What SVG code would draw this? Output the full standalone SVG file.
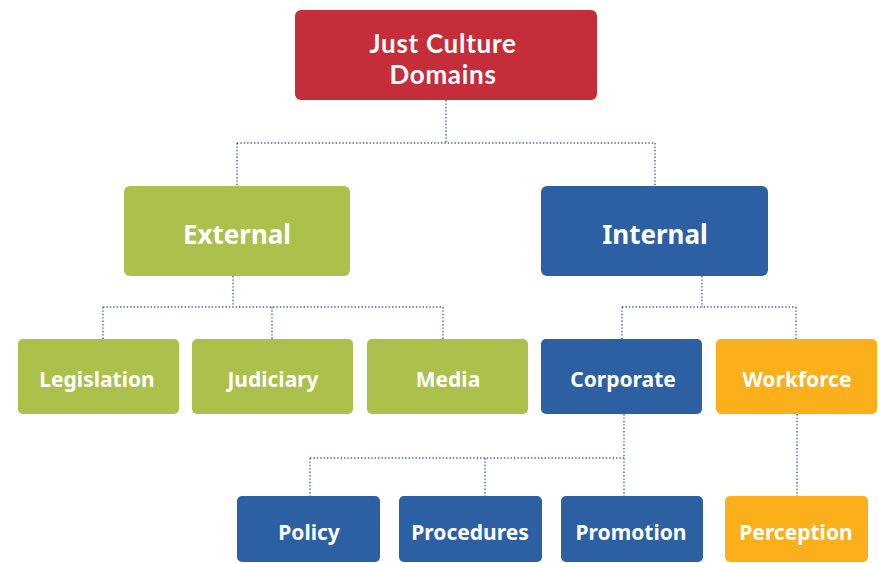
<svg xmlns="http://www.w3.org/2000/svg" width="879" height="563" viewBox="0 0 879 563">
<style>
.box{stroke:none}
.red{fill:#C52D3A}
.green{fill:#ABC14B}
.blue{fill:#2D5FA3}
.orange{fill:#FBB01B}
.t{font-family:"Noto Sans","Open Sans","DejaVu Sans",sans-serif;font-weight:bold;fill:#ffffff;text-anchor:middle}
.t1{font-family:Lato,"Noto Sans",sans-serif;font-size:26px;letter-spacing:0.7px}
.t2{font-size:26px}
.t3{font-size:21px}
.t4{font-size:21px}
.c{fill:none;stroke:#3A67B0;stroke-width:1.4;stroke-dasharray:1.4 2}
</style>
<rect x="0" y="0" width="879" height="563" fill="#ffffff"/>
<g id="connectors">
<path class="c" d="M446,100 V143 M237,143 H655 M237,143 V186 M655,143 V186"/>
<path class="c" d="M233,276 V307 M103,307 H443 M103,307 V339 M272,307 V339 M443,307 V339"/>
<path class="c" d="M702,276 V307 M622,307 H796 M622,307 V339 M796,307 V339"/>
<path class="c" d="M624,414 V458 M310,458 H624 M310,458 V496 M485,458 V496 M624,458 V496"/>
<path class="c" d="M797,414 V496"/>
</g>
<g id="root"><rect class="box red" x="295" y="10" width="302" height="90" rx="6"/><text class="t t1" x="443" y="52.5">Just Culture</text><text class="t t1" x="443" y="84">Domains</text></g>
<g id="external"><rect class="box green" x="124" y="186" width="226" height="90" rx="6"/><text class="t t2" x="237" y="244">External</text></g>
<g id="internal"><rect class="box blue" x="541" y="186" width="227" height="90" rx="6"/><text class="t t2" x="655" y="244">Internal</text></g>
<g id="legislation"><rect class="box green" x="18" y="339" width="161" height="75" rx="5"/><text class="t t3" x="97" y="387">Legislation</text></g>
<g id="judiciary"><rect class="box green" x="192" y="339" width="161" height="75" rx="5"/><text class="t t3" x="273" y="387">Judiciary</text></g>
<g id="media"><rect class="box green" x="367" y="339" width="161" height="75" rx="5"/><text class="t t3" x="448" y="387">Media</text></g>
<g id="corporate"><rect class="box blue" x="541" y="339" width="161" height="75" rx="5"/><text class="t t3" x="623" y="387">Corporate</text></g>
<g id="workforce"><rect class="box orange" x="716" y="339" width="161" height="75" rx="5"/><text class="t t3" x="797" y="387">Workforce</text></g>
<g id="policy"><rect class="box blue" x="237" y="496" width="143" height="66" rx="5"/><text class="t t4" x="309" y="540">Policy</text></g>
<g id="procedures"><rect class="box blue" x="399" y="496" width="143" height="66" rx="5"/><text class="t t4" x="470" y="540">Procedures</text></g>
<g id="promotion"><rect class="box blue" x="561" y="496" width="142" height="66" rx="5"/><text class="t t4" x="631" y="540">Promotion</text></g>
<g id="perception"><rect class="box orange" x="725" y="496" width="143" height="66" rx="5"/><text class="t t4" x="796" y="540">Perception</text></g>
</svg>
